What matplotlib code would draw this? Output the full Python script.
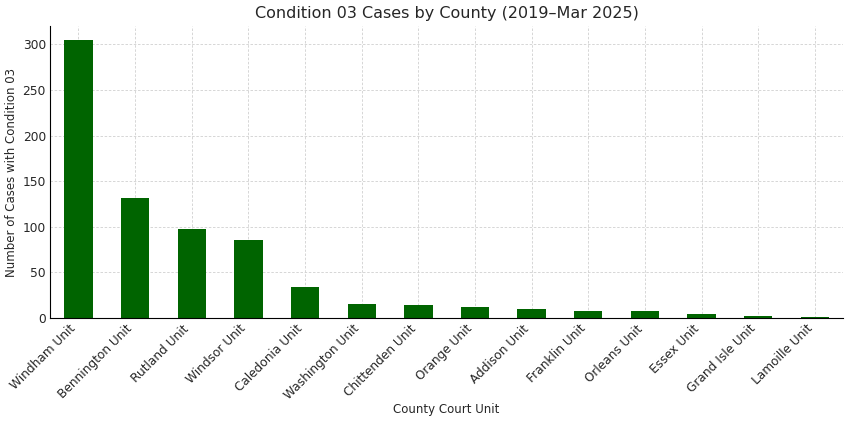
import matplotlib
matplotlib.use("Agg")
import matplotlib.pyplot as plt

counties = ["Windham Unit", "Bennington Unit", "Rutland Unit", "Windsor Unit",
            "Caledonia Unit", "Washington Unit", "Chittenden Unit", "Orange Unit",
            "Addison Unit", "Franklin Unit", "Orleans Unit", "Essex Unit",
            "Grand Isle Unit", "Lamoille Unit"]
cases = [305, 132, 98, 86, 34, 16, 14, 12, 10, 8, 8, 4, 2, 1]

txt = "#262626"
fig, ax = plt.subplots(figsize=(8.5, 4.23), dpi=100)
ax.bar(range(len(counties)), cases, width=0.5, color="darkgreen", zorder=2)
ax.set_xticks(range(len(counties)))
ax.set_xticklabels(counties, rotation=45, ha="right", fontsize=8.7, color=txt)
ax.tick_params(axis="y", labelsize=8.8, labelcolor=txt)
ax.tick_params(length=0, pad=3)
ax.set_xlim(-0.5, len(counties) - 0.5)
ax.set_ylim(0, 320)
ax.set_title("Condition 03 Cases by County (2019\u2013Mar 2025)", fontsize=11.5, color=txt)
ax.set_xlabel("County Court Unit", fontsize=8.5, color=txt)
ax.set_ylabel("Number of Cases with Condition 03", fontsize=8.5, color=txt)
ax.xaxis.set_label_coords(0.5, -0.29)
ax.yaxis.set_label_coords(-0.04, 0.5)
ax.grid(True, linestyle=(0, (3, 2)), color="#d0d0d0", linewidth=0.6, zorder=3)
ax.spines["top"].set_visible(False)
ax.spines["right"].set_visible(False)
for s in ["left", "bottom"]:
    ax.spines[s].set_linewidth(0.8)
fig.subplots_adjust(left=0.059, right=0.992, top=0.938, bottom=0.248)
fig.savefig("out.png")
